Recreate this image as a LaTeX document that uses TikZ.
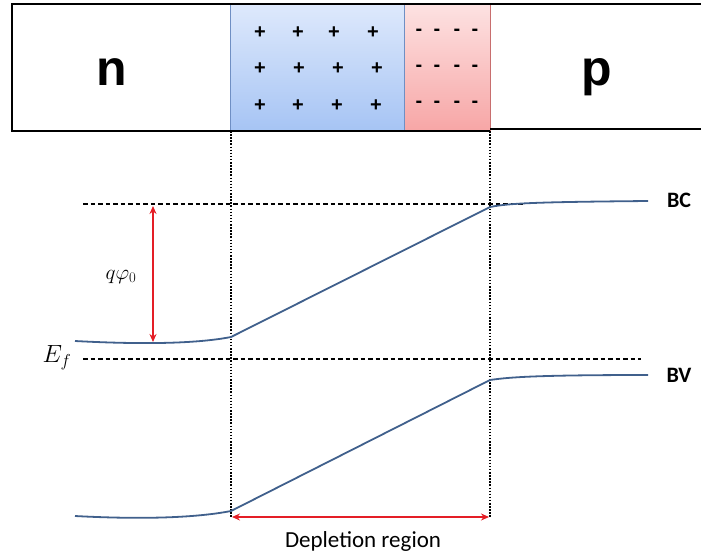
\documentclass[tikz,border=0pt]{standalone}
\usepackage{fontspec}
\usepackage{amsmath,amssymb}
\setmainfont{Carlito}
\newfontfamily\arialfont{Liberation Sans}
\usetikzlibrary{arrows.meta}
\definecolor{bandblue}{RGB}{64,96,140}
\definecolor{arrred}{RGB}{228,30,38}
\definecolor{ntop}{RGB}{222,233,252}
\definecolor{nbot}{RGB}{166,196,244}
\definecolor{nedge}{RGB}{111,143,196}
\definecolor{ptop}{RGB}{253,226,226}
\definecolor{pbot}{RGB}{247,166,166}
\definecolor{pedge}{RGB}{200,110,110}
\tikzset{
  band/.style={bandblue, line width=1.8pt},
  guide/.style={line width=1.3pt, dash pattern=on 4.5pt off 3pt},
  dotguide/.style={line width=1.5pt, dash pattern=on 1.5pt off 1.6pt},
  redarrow/.style={{Stealth[length=8pt,width=7pt]}-{Stealth[length=8pt,width=7pt]}, arrred, line width=1.6pt},
  charge/.style={font=\arialfont\bfseries\fontsize{20}{20}\selectfont},
  side/.style={anchor=base, font=\arialfont\bfseries\fontsize{50}{50}\selectfont},
  bandlabel/.style={anchor=base, font=\bfseries\fontsize{22}{22}\selectfont},
}
\begin{document}
\begin{tikzpicture}[x=1pt,y=-1pt]
\useasboundingbox (0,0) rectangle (701,555);

% zones of the junction
\shade[top color=ntop, bottom color=nbot] (230,4) rectangle (404,131);
\shade[top color=ptop, bottom color=pbot] (404,4) rectangle (490,131);
\draw[nedge, line width=0.8pt] (230,4) -- (230,131) (404,4) -- (404,131);
\draw[pedge, line width=0.8pt] (490,4) -- (490,131);
\draw[line width=1.8pt] (701,4) -- (12,4) -- (12,131) -- (490,131);
\draw[line width=1.8pt] (490,129) -- (701,129);

\node[side] (N) at (112,85) {n};
\node[side] (P) at (597,85) {p};

\foreach \x in {260,298,334,373} \node[charge] at (\x,33) {+};
\foreach \x in {260,299,338,377} \node[charge] at (\x,69) {+};
\foreach \x in {260,298,337,376} \node[charge] at (\x,106) {+};
\foreach \y in {32,68,104}
  \foreach \x in {419,437,457,475} \node[charge] at (\x,\y) {-};

% edges of the depletion region
\coordinate (L1) at (231,131);
\coordinate (L2) at (231,517);
\coordinate (R1) at (490,131);
\coordinate (R2) at (490,517);
\draw[dotguide] (L1) -- (L2);
\draw[dotguide] (R1) -- (R2);

% reference levels
\coordinate (C0) at (83,204);
\coordinate (C1) at (523,204);
\coordinate (F0) at (83,359);
\coordinate (F1) at (641,359);
\draw[guide] (C0) -- (C1);
\draw[guide] (F0) -- (F1);

% bands
\draw[band] (75,341) .. controls (150,345) and (200,343) .. (231,337)
  -- (490,207) .. controls (510,203) and (540,202) .. (648,201);
\draw[band] (75,516) .. controls (150,520) and (200,517) .. (231,511)
  -- (490,380) .. controls (510,377) and (540,375) .. (648,375);

\node[bandlabel] (BC) at (679,207) {BC};
\node[bandlabel] (BV) at (679,382) {BV};

% barrier height
\coordinate (Q0) at (153,206);
\coordinate (Q1) at (153,342);
\draw[redarrow] (Q0) -- (Q1);
\node[font=\fontsize{25}{25}\selectfont] (QP) at (121,277) {\scalebox{0.85}{$q\varphi_0$}};
\node[font=\fontsize{24}{24}\selectfont] (EF) at (57,358) {$E_f$};

% width
\coordinate (D0) at (232,517);
\coordinate (D1) at (489,517);
\draw[redarrow] (D0) -- (D1);
\node[anchor=base, font=\fontsize{23}{23}\selectfont] (DR) at (363,547) {Depletion region};
\end{tikzpicture}
\end{document}
